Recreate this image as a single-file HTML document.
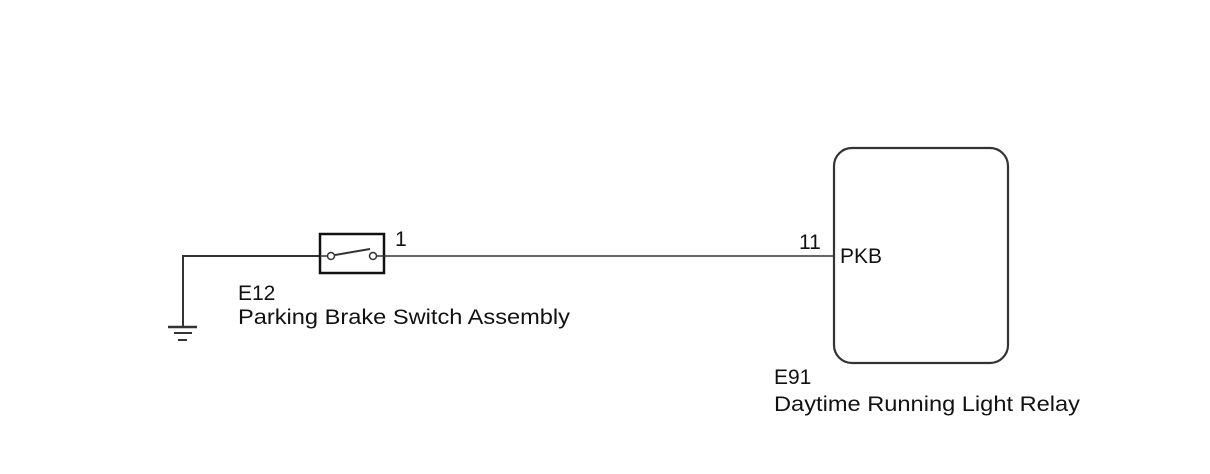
<!DOCTYPE html>
<html><head><meta charset="utf-8"><style>html,body{margin:0;padding:0;background:#fff}svg{display:block}</style></head>
<body>
<svg width="1210" height="474" viewBox="0 0 1210 474" xmlns="http://www.w3.org/2000/svg" font-family="Liberation Sans, sans-serif" font-size="21" fill="#111">
<g stroke="#333" fill="none">
<polyline points="183,327 183,256 320,256" stroke-width="2"/>
<line x1="385" y1="256" x2="835" y2="256" stroke-width="1.5"/>
<line x1="168" y1="327" x2="197" y2="327" stroke-width="2.5"/>
<line x1="174" y1="333" x2="192" y2="333" stroke-width="2"/>
<line x1="178" y1="340" x2="187" y2="340" stroke-width="2"/>
<rect x="320" y="234" width="64" height="39" stroke-width="2.5" stroke="#111"/>
<line x1="320" y1="256" x2="327" y2="256" stroke-width="1.5"/>
<line x1="377" y1="256" x2="385" y2="256" stroke-width="1.5"/>
<line x1="335" y1="255" x2="370" y2="249" stroke-width="2"/>
<circle cx="331" cy="256" r="3.5" stroke-width="1.5" fill="#fff"/>
<circle cx="373" cy="256" r="3.5" stroke-width="1.5" fill="#fff"/>
<rect x="834" y="148" width="174" height="215" rx="18" ry="18" stroke-width="2.2"/>
</g>
<text x="395" y="246">1</text>
<text x="799" y="249">11</text>
<text x="840" y="263">PKB</text>
<text x="238" y="300">E12</text>
<text x="238" y="324" textLength="332" lengthAdjust="spacingAndGlyphs">Parking Brake Switch Assembly</text>
<text x="774" y="384">E91</text>
<text x="774" y="411" textLength="306" lengthAdjust="spacingAndGlyphs">Daytime Running Light Relay</text>
</svg>
</body></html>
